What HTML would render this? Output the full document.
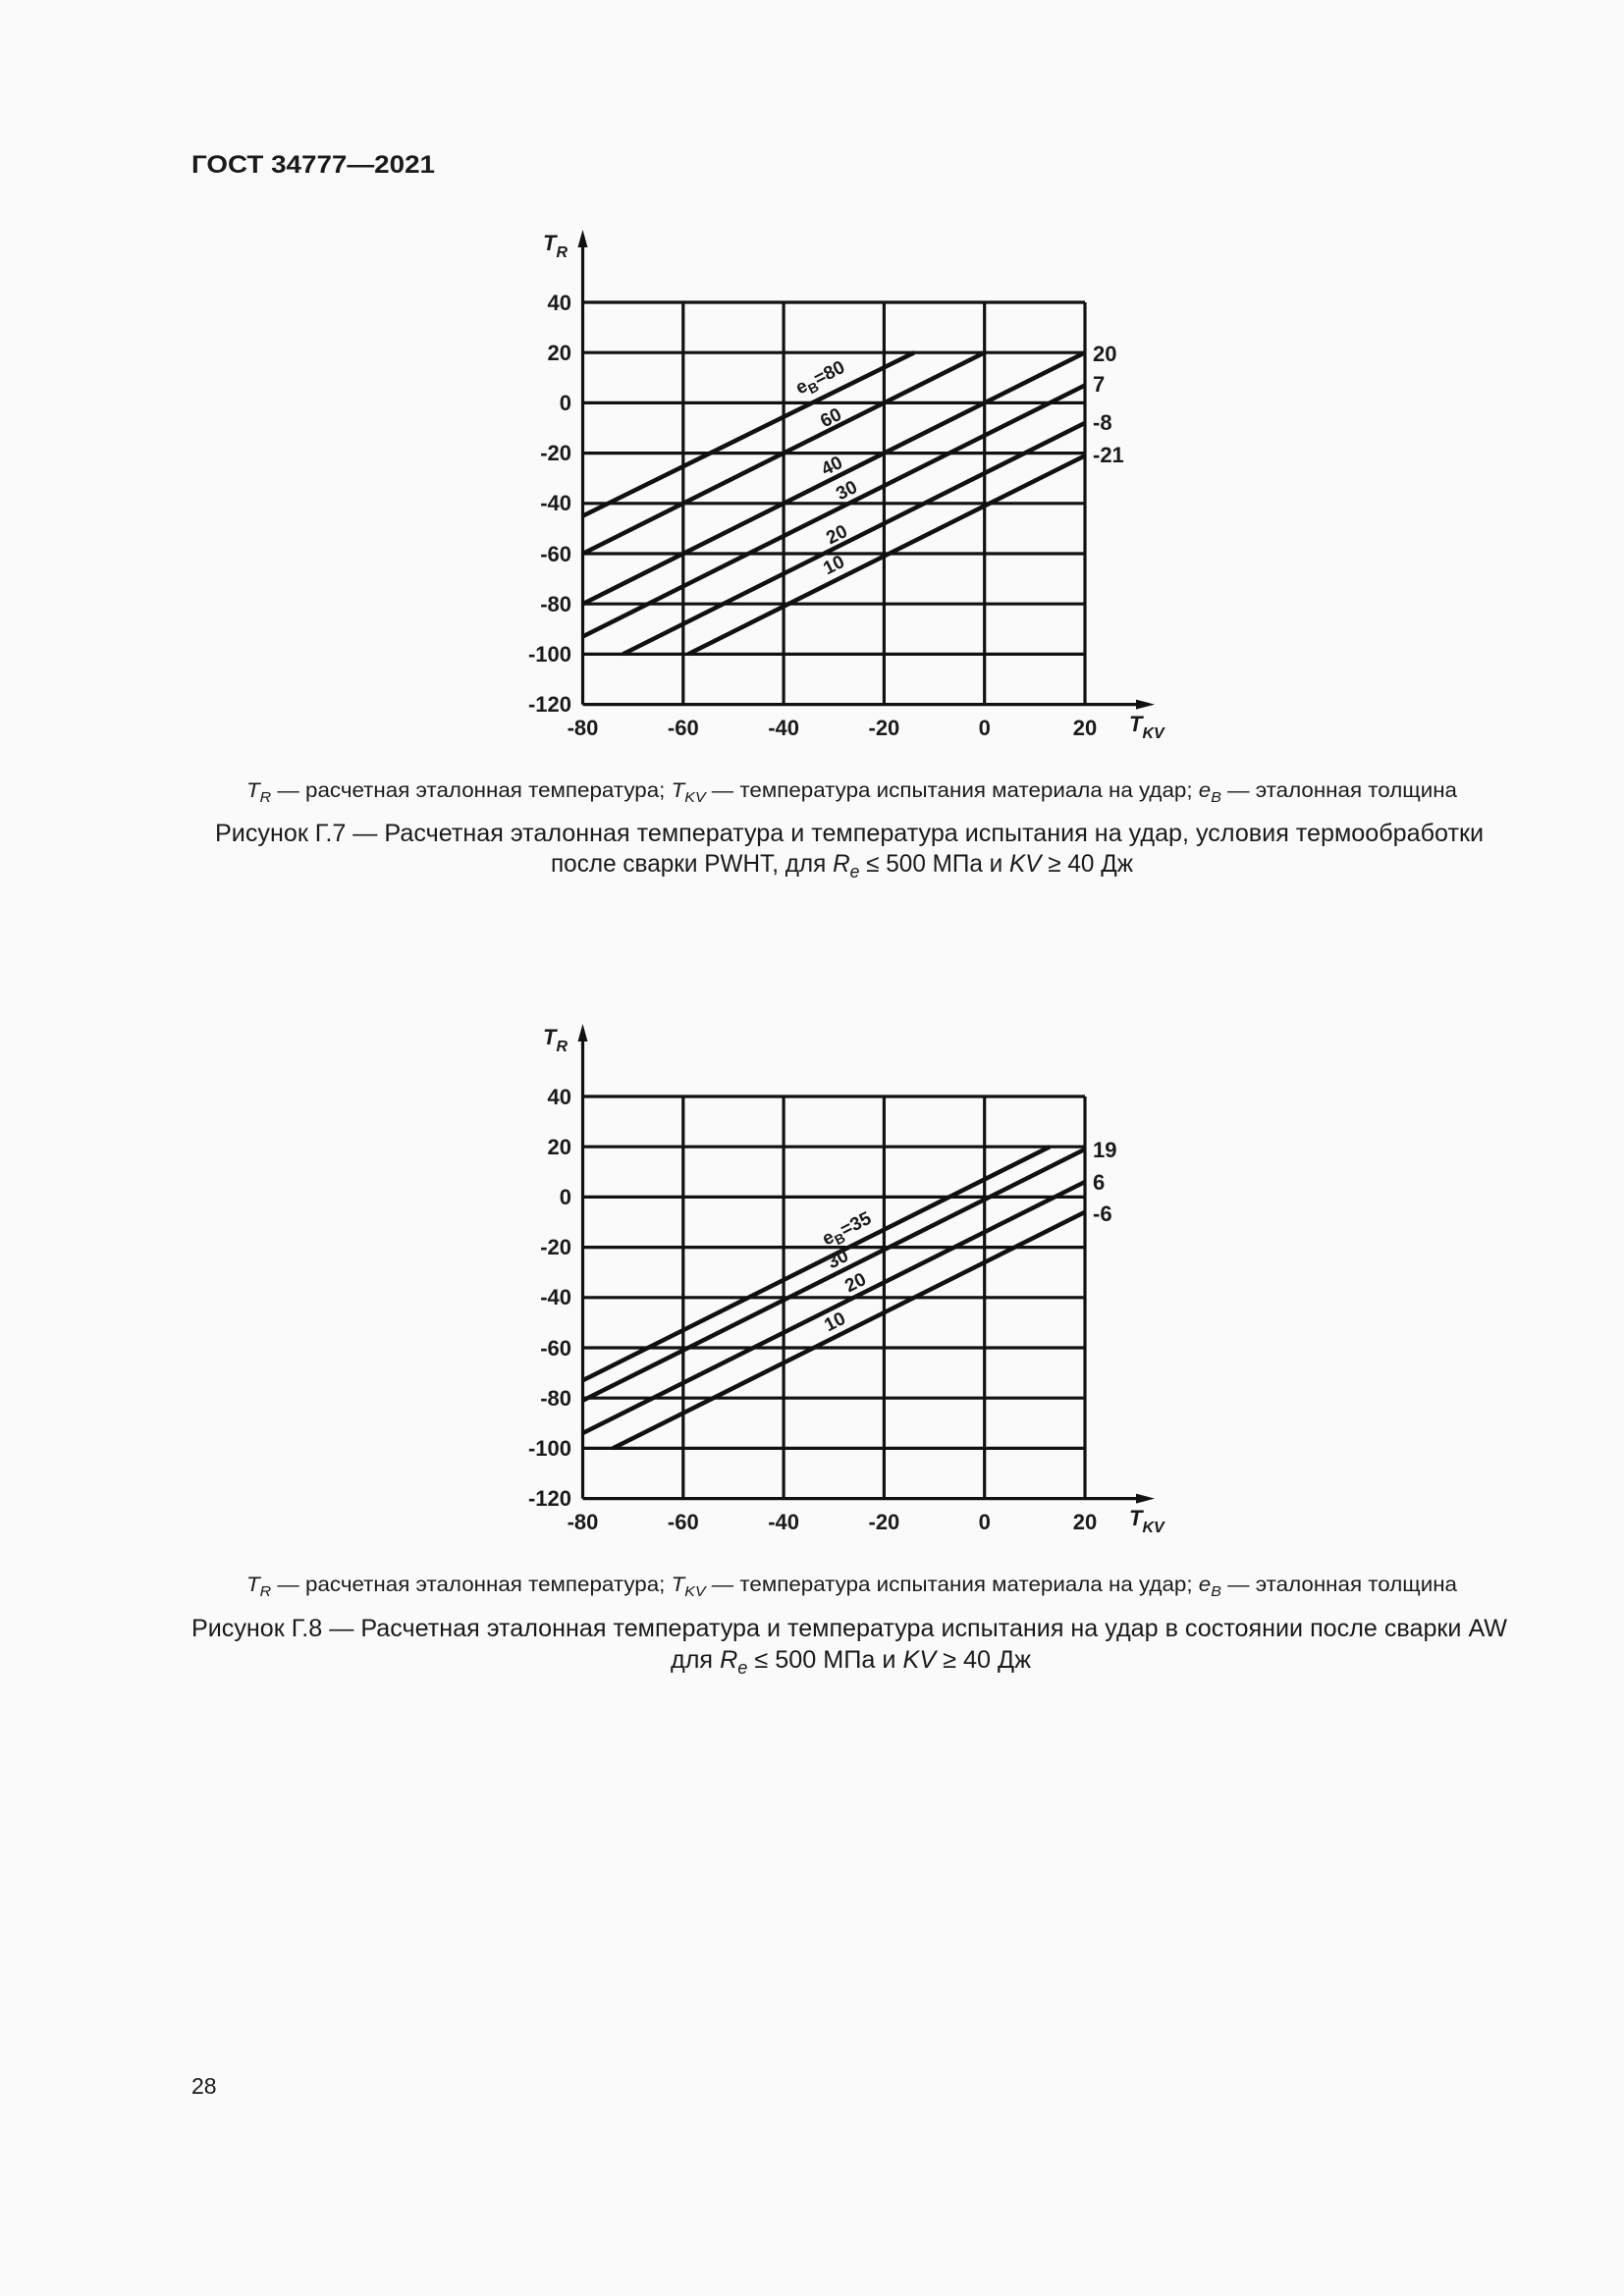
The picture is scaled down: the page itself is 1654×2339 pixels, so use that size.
<!DOCTYPE html>
<html><head><meta charset="utf-8"><style>
html,body{margin:0;padding:0;background:#fafafa}
svg{display:block}
text{font-family:"Liberation Sans",Arial,sans-serif;fill:#1a1a1a}
.b{font-weight:bold}
</style></head><body>
<svg width="1654" height="2339" viewBox="0 0 1654 2339" xmlns="http://www.w3.org/2000/svg">
<rect width="1654" height="2339" fill="#fafafa"/>
<defs>
<g id="grid" stroke="#111" stroke-width="3.2" fill="none">
<line x1="593.5" y1="240" x2="593.5" y2="717.6"/>
<line x1="695.8" y1="308" x2="695.8" y2="717.6"/>
<line x1="798.1" y1="308" x2="798.1" y2="717.6"/>
<line x1="900.4" y1="308" x2="900.4" y2="717.6"/>
<line x1="1002.7" y1="308" x2="1002.7" y2="717.6"/>
<line x1="1105" y1="308" x2="1105" y2="717.6"/>
<line x1="593.5" y1="308" x2="1105" y2="308"/>
<line x1="593.5" y1="359.2" x2="1105" y2="359.2"/>
<line x1="593.5" y1="410.4" x2="1105" y2="410.4"/>
<line x1="593.5" y1="461.6" x2="1105" y2="461.6"/>
<line x1="593.5" y1="512.8" x2="1105" y2="512.8"/>
<line x1="593.5" y1="564" x2="1105" y2="564"/>
<line x1="593.5" y1="615.2" x2="1105" y2="615.2"/>
<line x1="593.5" y1="666.4" x2="1105" y2="666.4"/>
<line x1="593.5" y1="717.6" x2="1165" y2="717.6"/>
<polygon points="593.5,234 588.5,252 598.5,252" fill="#111" stroke="none"/>
<polygon points="1176,717.6 1157,712.6 1157,722.6" fill="#111" stroke="none"/>
</g>
</defs>

<text x="195" y="176" class="b" font-size="25" textLength="248" lengthAdjust="spacingAndGlyphs">ГОСТ 34777—2021</text>

<!-- Chart 1 -->
<use href="#grid"/>
<g stroke="#111" stroke-width="4.5" fill="none">
<line x1="593.5" y1="525.6" x2="931.1" y2="359.2"/>
<line x1="593.5" y1="564" x2="1002.7" y2="359.2"/>
<line x1="593.5" y1="615.2" x2="1105" y2="359.2"/>
<line x1="593.5" y1="648.5" x2="1105" y2="392.5"/>
<line x1="634.4" y1="666.4" x2="1105" y2="430.9"/>
<line x1="700.9" y1="666.4" x2="1105" y2="464.2"/>
</g>
<g font-size="22" text-anchor="end">
<text x="582" y="316" class="b">40</text>
<text x="582" y="367" class="b">20</text>
<text x="582" y="418" class="b">0</text>
<text x="582" y="469" class="b">-20</text>
<text x="582" y="520" class="b">-40</text>
<text x="582" y="572" class="b">-60</text>
<text x="582" y="623" class="b">-80</text>
<text x="582" y="674" class="b">-100</text>
<text x="582" y="725" class="b">-120</text>
</g>
<g font-size="22" text-anchor="middle">
<text x="593.5" y="749" class="b">-80</text>
<text x="695.8" y="749" class="b">-60</text>
<text x="798.1" y="749" class="b">-40</text>
<text x="900.4" y="749" class="b">-20</text>
<text x="1002.7" y="749" class="b">0</text>
<text x="1105" y="749" class="b">20</text>
</g>
<text x="553" y="255" class="b" font-size="22" font-style="italic">T<tspan font-size="16" dy="7">R</tspan></text>
<text x="1150" y="745" class="b" font-size="22" font-style="italic">T<tspan font-size="16" dy="7">KV</tspan></text>
<g font-size="22">
<text x="1113" y="368" class="b">20</text>
<text x="1113" y="399" class="b">7</text>
<text x="1113" y="438" class="b">-8</text>
<text x="1113" y="471" class="b">-21</text>
</g>
<g font-size="19" text-anchor="middle">
<text class="b" transform="translate(838,390) rotate(-26.6)">e<tspan font-size="14" dy="5">B</tspan><tspan dy="-5">=80</tspan></text>
<text class="b" transform="translate(849,431) rotate(-26.6)">60</text>
<text class="b" transform="translate(850,480) rotate(-26.6)">40</text>
<text class="b" transform="translate(865,505) rotate(-26.6)">30</text>
<text class="b" transform="translate(855,550) rotate(-26.6)">20</text>
<text class="b" transform="translate(852,581) rotate(-26.6)">10</text>
</g>

<text x="251" y="812" font-size="21" textLength="1233" lengthAdjust="spacingAndGlyphs"><tspan font-style="italic">T</tspan><tspan font-style="italic" font-size="15" dy="5">R</tspan><tspan dy="-5"> — расчетная эталонная температура; </tspan><tspan font-style="italic">T</tspan><tspan font-style="italic" font-size="15" dy="5">KV</tspan><tspan dy="-5"> — температура испытания материала на удар; </tspan><tspan font-style="italic">e</tspan><tspan font-style="italic" font-size="15" dy="5">B</tspan><tspan dy="-5"> — эталонная толщина</tspan></text>
<text x="219" y="857" font-size="25" textLength="1292" lengthAdjust="spacingAndGlyphs">Рисунок Г.7 — Расчетная эталонная температура и температура испытания на удар, условия термообработки</text>
<text x="561" y="888" font-size="25" textLength="593" lengthAdjust="spacingAndGlyphs">после сварки PWHT, для <tspan font-style="italic">R</tspan><tspan font-style="italic" font-size="18" dy="6">e</tspan><tspan dy="-6"> ≤ 500 МПа и </tspan><tspan font-style="italic">KV</tspan> ≥ 40 Дж</text>

<!-- Chart 2 -->
<use href="#grid" transform="translate(0,809)"/>
<g stroke="#111" stroke-width="4.5" fill="none">
<line x1="593.5" y1="1406.3" x2="1069.2" y2="1168.2"/>
<line x1="593.5" y1="1426.8" x2="1105" y2="1170.8"/>
<line x1="593.5" y1="1460" x2="1105" y2="1204"/>
<line x1="624.2" y1="1475.4" x2="1105" y2="1234.8"/>
</g>
<g font-size="22" text-anchor="end">
<text x="582" y="1125" class="b">40</text>
<text x="582" y="1176" class="b">20</text>
<text x="582" y="1227" class="b">0</text>
<text x="582" y="1278" class="b">-20</text>
<text x="582" y="1329" class="b">-40</text>
<text x="582" y="1381" class="b">-60</text>
<text x="582" y="1432" class="b">-80</text>
<text x="582" y="1483" class="b">-100</text>
<text x="582" y="1534" class="b">-120</text>
</g>
<g font-size="22" text-anchor="middle">
<text x="593.5" y="1558" class="b">-80</text>
<text x="695.8" y="1558" class="b">-60</text>
<text x="798.1" y="1558" class="b">-40</text>
<text x="900.4" y="1558" class="b">-20</text>
<text x="1002.7" y="1558" class="b">0</text>
<text x="1105" y="1558" class="b">20</text>
</g>
<text x="553" y="1064" class="b" font-size="22" font-style="italic">T<tspan font-size="16" dy="7">R</tspan></text>
<text x="1150" y="1554" class="b" font-size="22" font-style="italic">T<tspan font-size="16" dy="7">KV</tspan></text>
<g font-size="22">
<text x="1113" y="1179" class="b">19</text>
<text x="1113" y="1212" class="b">6</text>
<text x="1113" y="1244" class="b">-6</text>
</g>
<g font-size="19" text-anchor="middle">
<text class="b" transform="translate(865,1257) rotate(-26.6)">e<tspan font-size="14" dy="5">B</tspan><tspan dy="-5">=35</tspan></text>
<text class="b" transform="translate(856,1288) rotate(-26.6)">30</text>
<text class="b" transform="translate(874,1312) rotate(-26.6)">20</text>
<text class="b" transform="translate(853,1352) rotate(-26.6)">10</text>
</g>

<text x="251" y="1621" font-size="21" textLength="1233" lengthAdjust="spacingAndGlyphs"><tspan font-style="italic">T</tspan><tspan font-style="italic" font-size="15" dy="5">R</tspan><tspan dy="-5"> — расчетная эталонная температура; </tspan><tspan font-style="italic">T</tspan><tspan font-style="italic" font-size="15" dy="5">KV</tspan><tspan dy="-5"> — температура испытания материала на удар; </tspan><tspan font-style="italic">e</tspan><tspan font-style="italic" font-size="15" dy="5">B</tspan><tspan dy="-5"> — эталонная толщина</tspan></text>
<text x="195" y="1667" font-size="25" textLength="1340" lengthAdjust="spacingAndGlyphs">Рисунок Г.8 — Расчетная эталонная температура и температура испытания на удар в состоянии после сварки AW</text>
<text x="683" y="1699" font-size="25" textLength="367" lengthAdjust="spacingAndGlyphs">для <tspan font-style="italic">R</tspan><tspan font-style="italic" font-size="18" dy="6">e</tspan><tspan dy="-6"> ≤ 500 МПа и </tspan><tspan font-style="italic">KV</tspan> ≥ 40 Дж</text>

<text x="195" y="2133" font-size="23">28</text>
</svg>
</body></html>
